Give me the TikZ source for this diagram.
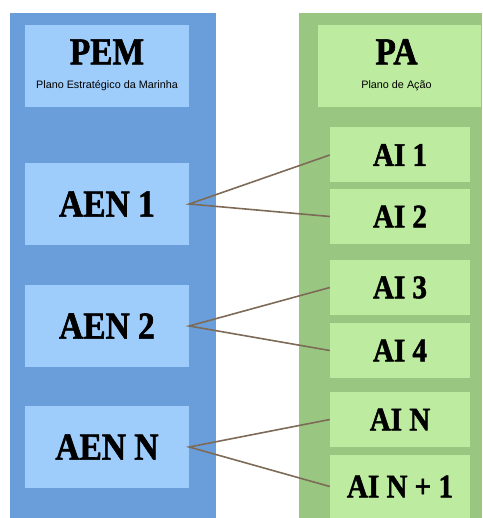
\documentclass[tikz,border=0pt]{standalone}
\usepackage{fontspec}
\setmainfont{Liberation Serif}
\newfontfamily\headfont{Liberation Serif}[FakeBold=1.5, FakeStretch=0.88]
\newfontfamily\subfont{Liberation Sans}
\usetikzlibrary{positioning}

\definecolor{colblue}{HTML}{6A9EDB}
\definecolor{boxblue}{HTML}{9FCDFB}
\definecolor{colgreen}{HTML}{99C782}
\definecolor{boxgreen}{HTML}{BDEBA0}
\definecolor{linkbrown}{HTML}{7D6B58}

\begin{document}
\begin{tikzpicture}[x=1pt,y=-1pt,
	aenbox/.style={fill=boxblue, minimum width=164pt, minimum height=82pt, inner sep=0pt,
		font=\headfont\bfseries\fontsize{38}{38}\selectfont},
	aibox/.style={fill=boxgreen, minimum width=140pt, minimum height=55pt, inner sep=0pt,
		font=\headfont\bfseries\fontsize{33}{33}\selectfont},
	subtext/.style={inner sep=0pt, anchor=base, font=\subfont\fontsize{10.8}{10.8}\selectfont},
	link/.style={draw=linkbrown, line width=1.6pt}]
		\useasboundingbox (0,0) rectangle (482,518);

		% columns
		\fill[colblue] (10,13) rectangle (216,518);
		\fill[colgreen] (299,13) rectangle (482,518);

		% headers
		\node[aenbox] (pem) at (107,66.5) {};
		\node[aenbox, fill=none, minimum size=0pt, anchor=base] (pemtitle) at ([yshift=-39pt]pem.north) {PEM};
		\node[subtext] (pemsub) at ([yshift=-63pt]pem.north) {Plano Estratégico da Marinha};
		\node[aenbox, minimum width=163pt, fill=boxgreen] (pa) at (399.5,66.5) {};
		\node[aenbox, fill=none, minimum size=0pt, anchor=base] (patitle) at ([xshift=-3pt,yshift=-39pt]pa.north) {PA};
		\node[subtext] (pasub) at ([xshift=-3pt,yshift=-63pt]pa.north) {Plano de Ação};

		% left boxes
		\node[aenbox] (aen1) at (107,204) {AEN 1};
		\node[aenbox] (aen2) at (107,326) {AEN 2};
		\node[aenbox] (aenn) at (107,447) {AEN N};

		% right boxes
		\node[aibox] (ai1) at (400,155) {AI 1};
		\node[aibox] (ai2) at (400,216.5) {AI 2};
		\node[aibox] (ai3) at (400,287.5) {AI 3};
		\node[aibox] (ai4) at (400,350.5) {AI 4};
		\node[aibox] (ain) at (400,419.5) {AI N};
		\node[aibox, minimum height=63pt] (ain1) at (400,486.5) {AI N + 1};

		% links
		\draw[link] (ai1.west) -- (aen1.east) -- (ai2.west);
		\draw[link] (ai3.west) -- (aen2.east) -- (ai4.west);
		\draw[link] (ain.west) -- (aenn.east) -- (ain1.west);
\end{tikzpicture}
\end{document}
